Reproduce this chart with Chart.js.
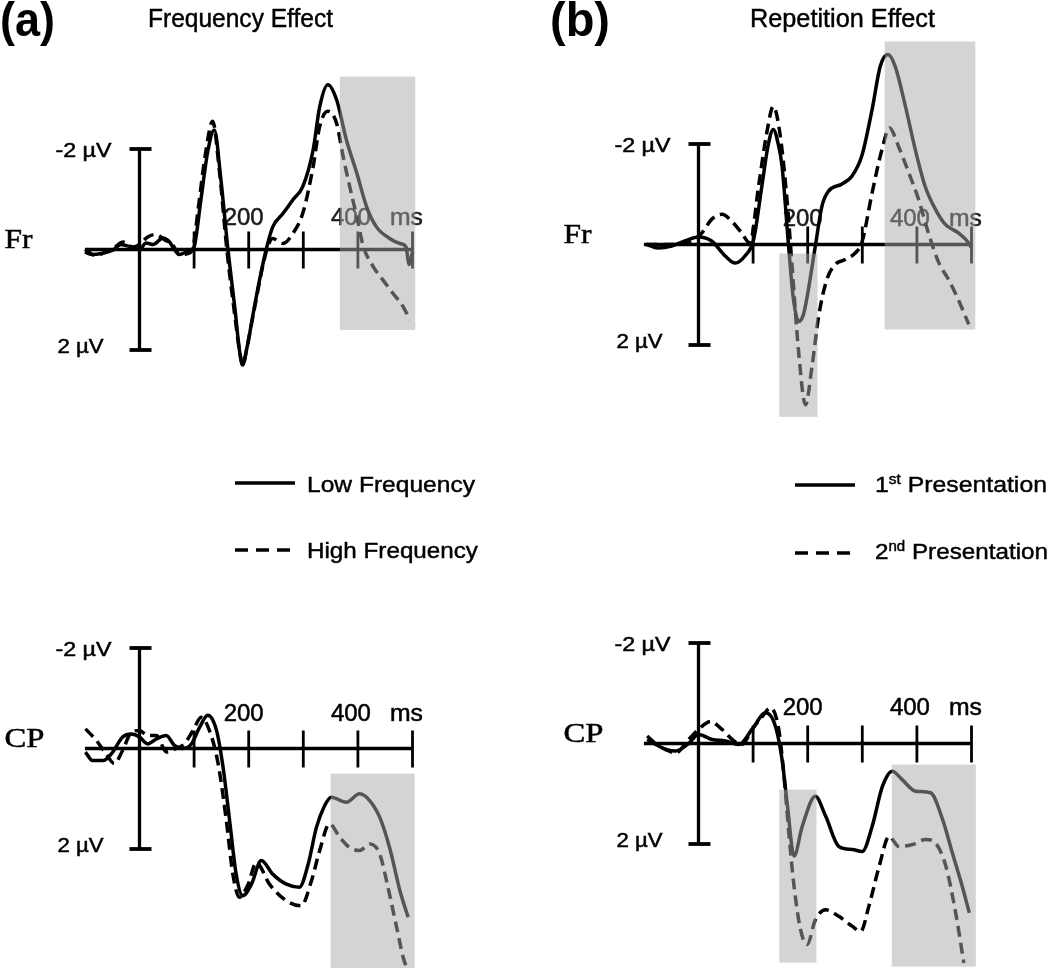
<!DOCTYPE html>
<html><head><meta charset="utf-8">
<script src="https://cdn.jsdelivr.net/npm/chart.js@4.4.0/dist/chart.umd.min.js"></script>
<style>
body{margin:0;background:#fff;width:1050px;height:968px;position:relative;overflow:hidden;font-family:"Liberation Sans",Arial,sans-serif}
canvas{position:absolute}
svg{position:absolute;left:0;top:0}
</style>
</head><body>
<canvas id="aFr" width="525" height="410" style="left:0;top:35px"></canvas>
<canvas id="bFr" width="525" height="410" style="left:525px;top:35px"></canvas>
<canvas id="aCP" width="525" height="378" style="left:0;top:590px"></canvas>
<canvas id="bCP" width="525" height="378" style="left:525px;top:590px"></canvas>
<svg width="1050" height="968" font-family="Liberation Sans, Arial, sans-serif">
  <text x="0" y="36" font-size="48" font-weight="bold" textLength="55" lengthAdjust="spacingAndGlyphs">(a)</text>
  <text x="550" y="36" font-size="48" font-weight="bold" textLength="60" lengthAdjust="spacingAndGlyphs">(b)</text>
  <g stroke="#000" stroke-width="0.45">
  <text x="148" y="27" font-size="26" textLength="185" lengthAdjust="spacingAndGlyphs">Frequency Effect</text>
  <text x="750" y="27" font-size="26" textLength="185" lengthAdjust="spacingAndGlyphs">Repetition Effect</text>
  <text x="307" y="492" font-size="22.5" textLength="168" lengthAdjust="spacingAndGlyphs">Low Frequency</text>
  <text x="307" y="558" font-size="22.5" textLength="171" lengthAdjust="spacingAndGlyphs">High Frequency</text>
  <text x="875" y="492" font-size="22.5" textLength="172" lengthAdjust="spacingAndGlyphs">1<tspan font-size="14" dy="-8">st</tspan><tspan dy="8"> Presentation</tspan></text>
  <text x="875" y="559" font-size="22.5" textLength="173" lengthAdjust="spacingAndGlyphs">2<tspan font-size="14" dy="-8">nd</tspan><tspan dy="8"> Presentation</tspan></text>
  </g>
  <line x1="235" y1="483" x2="295" y2="483" stroke="#000" stroke-width="3.4"/>
  <line x1="235" y1="550" x2="292" y2="550" stroke="#000" stroke-width="3.4" stroke-dasharray="13 8"/>
  <line x1="795" y1="485" x2="855" y2="485" stroke="#000" stroke-width="3.4"/>
  <line x1="795" y1="553" x2="852" y2="553" stroke="#000" stroke-width="3.4" stroke-dasharray="13 8"/>
</svg>
<script>
// ---------------- DATA ----------------
// Axis ticks (ms) and labels
const xTicks = [100, 200, 300, 400, 500];
const xAxisRange = [-100, 500];
const xTickLabels = ['200', '400', 'ms'];
const xTickLabelAt = [200, 400, 500];
const yTickValues = [-2, 2];            // µV, negative plotted upward
const yTickLabels = ['-2 µV', '2 µV'];
const channels = ['Fr', 'CP'];

// (a) Frequency effect, Fr
const aFrLowT  = [-100,-86,-70,-50,-34,-15,0,12,25,43,55,62,73,85,95,100,112,125,137,149,162,175,183,189,196,210,220,232,244,263,281,299,318,330,345,361,379,398,416,434,458,477,488,494,500];
const aFrLowV  = [0.05,0.1,0.08,0.02,-0.1,-0.05,0.0,-0.13,-0.1,-0.23,-0.15,-0.03,0.1,0.05,0.0,-0.05,-0.95,-1.95,-2.38,-1.4,0.0,1.2,2.0,2.3,2.0,1.17,0.6,0.0,-0.45,-0.72,-0.99,-1.25,-1.98,-2.84,-3.28,-2.98,-2.18,-1.52,-0.85,-0.45,-0.22,-0.12,-0.05,0.3,0.05];
const aFrHighT = [-100,-80,-62,-45,-30,-12,0,15,30,45,60,75,88,97,108,120,134,146,160,175,183,189,196,210,232,244,263,281,299,318,330,345,361,373,385,398,410,428,446,464,483,495];
const aFrHighV = [0.0,0.12,0.05,-0.05,-0.15,-0.05,-0.1,-0.25,-0.3,-0.2,-0.1,0.12,0.08,0.0,-0.85,-1.85,-2.55,-1.6,0.0,1.35,2.0,2.3,2.0,1.2,0.05,-0.22,-0.12,-0.32,-0.72,-1.65,-2.45,-2.75,-2.51,-1.85,-1.25,-0.65,-0.06,0.34,0.61,0.87,1.14,1.40];

// (b) Repetition effect, Fr
const bFr1T = [-95,-74,-49,-25,0,24,49,67,85,101,116,128,137,146,153,165,174,184,192,198,214,226,238,262,281,299,318,333,347,360,379,397,415,434,452,476,495,500];
const bFr1V = [0,0.07,0.03,-0.07,-0.15,-0.07,0.23,0.37,0.23,-0.1,-1.16,-2.0,-2.29,-2.0,-1.56,0.03,1.1,1.53,1.4,1.1,0.03,-0.76,-1.06,-1.2,-1.36,-1.76,-2.69,-3.55,-3.78,-3.55,-2.75,-1.89,-1.16,-0.70,-0.40,-0.23,-0.03,0.07];
const bFr2T = [-95,-55,-19,6,24,43,61,79,94,110,125,137,149,162,171,183,196,208,220,235,250,269,287,299,318,336,350,366,385,403,421,440,458,476,495];
const bFr2V = [0,0,-0.03,-0.23,-0.5,-0.6,-0.46,-0.23,-0.03,-1.16,-2.22,-2.75,-2.22,-0.9,0.37,2.09,3.19,2.42,1.43,0.70,0.40,0.30,0.17,-0.03,-1.03,-1.89,-2.32,-1.96,-1.43,-0.9,-0.23,0.36,0.70,1.10,1.59];

// (a) Frequency effect, CP
const aCPLowT  = [-99,-86,-67,-49,-31,-15,0,15,31,49,64,79,95,110,125,141,153,165,177,189,205,223,244,269,293,309,324,339,351,379,403,422,440,458,477,492];
const aCPLowV  = [0.07,0.24,0.24,0.07,-0.23,-0.29,-0.23,-0.09,-0.19,-0.26,-0.06,0,-0.09,-0.42,-0.66,-0.36,0.37,1.43,2.5,2.93,2.70,2.23,2.5,2.70,2.76,2.30,1.57,1.14,0.97,1.07,0.9,1.04,1.37,1.97,2.83,3.36];
const aCPHighT = [-99,-79,-61,-46,-31,-15,0,15,31,49,67,82,98,113,128,144,159,171,183,199,214,238,269,296,315,330,348,367,385,403,422,440,455,471,483,489];
const aCPHighV = [-0.39,-0.16,0.11,0.30,0.04,-0.32,-0.36,-0.26,-0.26,0.07,0,-0.09,-0.36,-0.62,-0.36,0.30,1.43,2.5,2.96,2.70,2.27,2.70,3.03,3.13,2.63,2.03,1.5,1.77,1.97,2.03,1.90,2.10,2.76,3.56,4.16,4.36];

// (b) Repetition effect, CP
const bCP1T = [-94,-73,-42,-18,0,25,49,74,98,123,141,153,163,175,190,214,233,257,282,300,318,337,355,373,398,425,447,465,483,496];
const bCP1V = [-0.15,0.05,0.15,0,-0.18,-0.08,-0.05,0.02,-0.28,-0.61,-0.34,0.32,1.25,2.24,1.65,1.05,1.45,2.05,2.11,2.15,1.65,0.85,0.55,0.72,0.95,0.98,1.51,2.18,2.84,3.37];
const bCP2T = [-94,-60,-42,-18,0,22,43,65,80,98,117,132,147,156,166,175,187,199,214,233,257,282,297,312,331,349,367,392,416,434,453,471,486];
const bCP2V = [-0.08,0.12,0.19,-0.08,-0.28,-0.44,-0.28,-0.05,0.02,-0.28,-0.54,-0.71,-0.28,0.58,1.85,2.84,3.71,4.0,3.51,3.31,3.44,3.64,3.74,3.24,2.44,1.85,2.05,2.01,1.91,1.98,2.44,3.37,4.37];

// Shaded analysis windows: [fromMs, toMs, topµV, bottomµV]
const aFrShades = [[367, 505, -3.44, 1.6]];
const bFrShades = [[148, 218, 0.18, 3.43], [341, 507, -4.04, 1.69]];
const aCPShades = [[350, 504, 0.5, 4.4]];
const bCPShades = [[148, 216, 0.92, 4.36], [354, 508, 0.42, 4.44]];

// ---------------- DRAWING ----------------
function fitText(ctx, text, left, width, baseline, font, color) {
  ctx.save();
  ctx.font = font; ctx.fillStyle = color; ctx.strokeStyle = color; ctx.lineWidth = 0.5;
  ctx.textAlign = 'left'; ctx.textBaseline = 'alphabetic';
  const w = ctx.measureText(text).width;
  ctx.translate(left, baseline); ctx.scale(width / w, 1);
  ctx.fillText(text, 0, 0);
  ctx.strokeText(text, 0, 0);
  ctx.restore();
}
function seg(ctx, x1, y1, x2, y2) { ctx.beginPath(); ctx.moveTo(x1, y1); ctx.lineTo(x2, y2); ctx.stroke(); }

const erpPlugin = {
  id: 'erp',
  beforeDatasetsDraw(chart, args, o) {
    const ctx = chart.ctx, xs = chart.scales.x, ys = chart.scales.y;
    const X = v => xs.getPixelForValue(v), Y = v => ys.getPixelForValue(v);
    const x0 = X(0), y0 = Y(0);
    ctx.save();
    ctx.strokeStyle = '#000'; ctx.lineCap = 'butt';
    ctx.lineWidth = 3.5;
    seg(ctx, X(xAxisRange[0]), y0, X(xAxisRange[1]), y0);
    ctx.lineWidth = 2.8;
    xTicks.forEach(t => seg(ctx, X(t), y0 - 18, X(t), y0 + 19));
    ctx.lineWidth = 3.3;
    seg(ctx, x0, Y(yTickValues[0]), x0, Y(yTickValues[1]));
    ctx.lineWidth = 3.8;
    yTickValues.forEach(v => seg(ctx, x0 - 10, Y(v), x0 + 12, Y(v)));
    ctx.restore();
    // y labels
    fitText(ctx, yTickLabels[0], x0 - 84, 56, Y(yTickValues[0]) + 8, '20px "Liberation Sans"', '#000');
    fitText(ctx, yTickLabels[1], x0 - 82, 46, Y(yTickValues[1]) + 3, '20px "Liberation Sans"', '#000');
    // x labels
    const dx = [-5, -7, -6], wd = [40, 40, 33];
    xTickLabels.forEach((s, i) => {
      fitText(ctx, s, X(xTickLabelAt[i]) + dx[i] - wd[i] / 2, wd[i], y0 - o.labelRise, '23px "Liberation Sans"', o.labelColor);
    });
    // channel label
    fitText(ctx, o.channel, x0 - 135, o.channel === 'Fr' ? 28 : 40, y0 - 2, '28px "Liberation Serif"', '#000');
  },
  afterDatasetsDraw(chart, args, o) {
    const ctx = chart.ctx, xs = chart.scales.x, ys = chart.scales.y;
    ctx.save();
    ctx.fillStyle = 'rgba(170,170,170,0.5)';
    o.shades.forEach(s => {
      const l = xs.getPixelForValue(s[0]), r = xs.getPixelForValue(s[1]);
      const t = ys.getPixelForValue(s[2]), b = ys.getPixelForValue(s[3]);
      ctx.fillRect(l, t, r - l, b - t);
    });
    ctx.restore();
  }
};

const xy = (T, V) => T.map((t, i) => ({ x: t, y: V[i] }));

function makePanel(id, left, top, w, h, x0, y0, channel, solid, dashed, shades, labelRise, labelColor) {
  const pxMs = 0.546, pxUv = 50.25;
  new Chart(document.getElementById(id), {
    type: 'line',
    data: { datasets: [
      { data: xy(solid[0], solid[1]), borderColor: '#000', borderWidth: 3.5, pointRadius: 0, fill: false, cubicInterpolationMode: 'monotone', borderJoinStyle: 'round' },
      { data: xy(dashed[0], dashed[1]), borderColor: '#000', borderWidth: 3.5, pointRadius: 0, fill: false, cubicInterpolationMode: 'monotone', borderDash: [11, 6] }
    ]},
    options: {
      responsive: false, animation: false, events: [],
      layout: { padding: 0 },
      scales: {
        x: { type: 'linear', display: false, min: (left - x0) / pxMs, max: (left + w - x0) / pxMs },
        y: { type: 'linear', display: false, reverse: true, min: (top - y0) / pxUv, max: (top + h - y0) / pxUv }
      },
      plugins: { legend: { display: false }, tooltip: { enabled: false },
        erp: { channel, shades, labelRise, labelColor } }
    },
    plugins: [erpPlugin]
  });
}

makePanel('aFr', 0, 35, 525, 410, 139.5, 249.5, channels[0], [aFrLowT, aFrLowV], [aFrHighT, aFrHighV], aFrShades, 25, '#1a1a1a');
makePanel('bFr', 525, 35, 525, 410, 698.5, 244.5, channels[0], [bFr1T, bFr1V], [bFr2T, bFr2V], bFrShades, 19, '#1a1a1a');
makePanel('aCP', 0, 590, 525, 378, 139.5, 748.5, channels[1], [aCPLowT, aCPLowV], [aCPHighT, aCPHighV], aCPShades, 28, '#000');
makePanel('bCP', 525, 590, 525, 378, 698.5, 743.5, channels[1], [bCP1T, bCP1V], [bCP2T, bCP2V], bCPShades, 29, '#000');
</script>
</body></html>
